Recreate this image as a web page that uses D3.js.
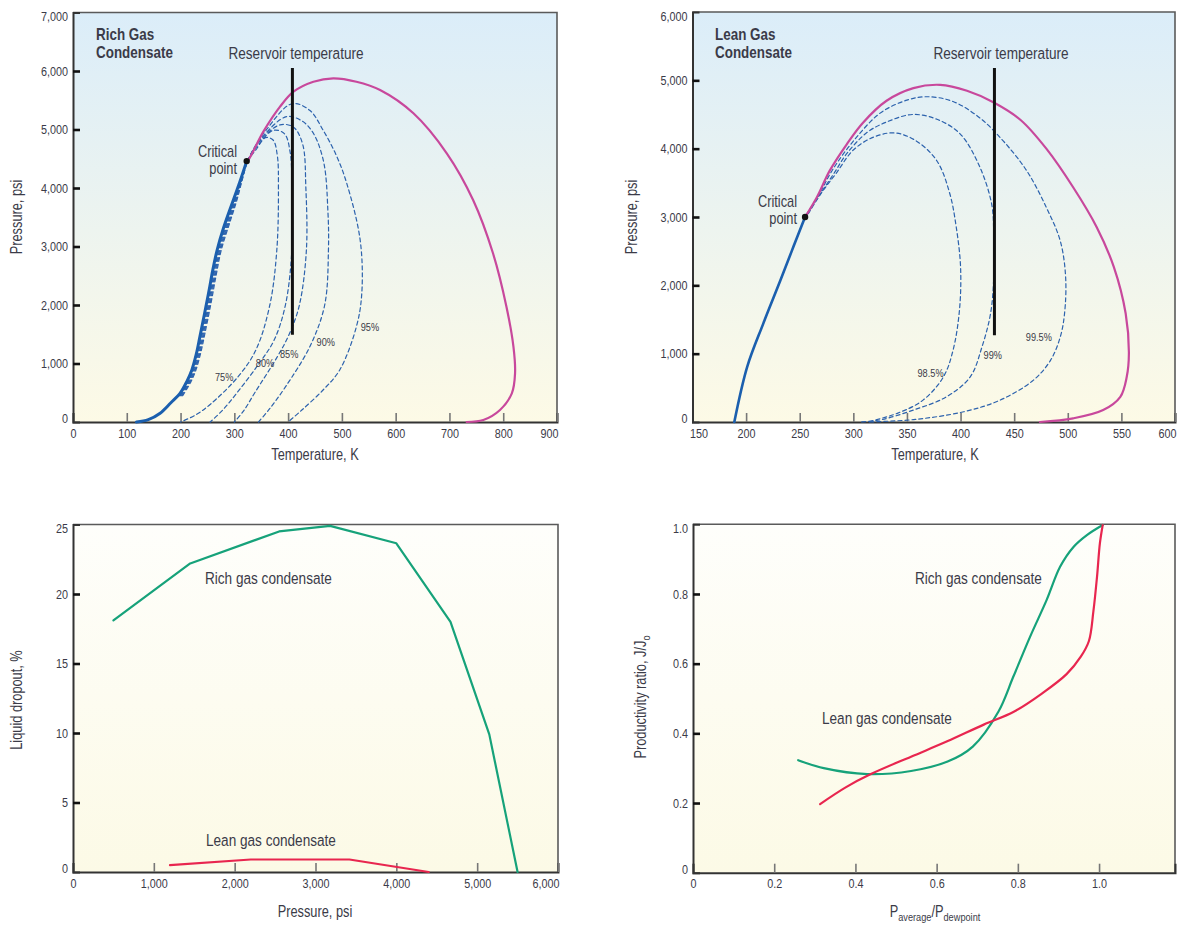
<!DOCTYPE html>
<html>
<head>
<meta charset="utf-8">
<script src="https://cdn.jsdelivr.net/npm/d3@7"></script>
<style>
  body { margin: 0; background: #fff; }
  svg text { font-family: "Liberation Sans", Arial, sans-serif; fill: #3b3b48; }
</style>
</head>
<body>
<svg id="chart" width="1184" height="927"></svg>
<script>
// ---------------------------------------------
// Data
// ---------------------------------------------

// Rich gas condensate, phase envelope (temperature K, pressure psi)
const richTicksX = [0, 100, 200, 300, 400, 500, 600, 700, 800, 900];
const richTicksY = [0, 1000, 2000, 3000, 4000, 5000, 6000, 7000];
const richBubble = [[118,0],[140,40],[162,150],[182,330],[199,490],[212,700],[221,890],[229,1150],
  [236,1460],[252,2200],[260,2600],[268,2940],[280,3320],[296,3740],[310,4100],[323,4460]];
const richDew = [[323,4460],[326,4480],[354,4963],[385,5390],[410,5646],[447,5817],[484,5875],[527,5817],
  [571,5675],[633,5277],[695,4593],[744,3795],[781,2884],[806,1971],[819,1287],[822,832],[816,490],
  [794,205],[763,34],[732,0]];
const richCritical = [323, 4460];
const richReservoir = [[408, 1490], [408, 6050]];
const richQualityNames = ['75%', '80%', '85%', '90%', '95%'];
const richQuality75 = [[198,450],[214,700],[223,900],[232,1200],[239,1500],[250,2000],[260,2500],[270,2950],
  [287,3450],[301,3800],[313,4150],[325,4470],[340,4650],[358,4860],[372,4820],[380,4550],[382,4000],
  [379,2940],[366,2000],[340,1230],[307,775],[255,300],[228,120],[200,0]];
const richQuality80 = [[199.5,450],[215.5,700],[224.5,900],[233.5,1200],[240.5,1500],[251.5,2000],[261.5,2500],
  [271.5,2950],[288.5,3450],[302,3800],[313.5,4150],[325.5,4480],[345,4740],[372,4985],[393,4930],[404,4600],
  [407,4000],[407,2940],[395,2000],[374,1400],[346,1000],[305,500],[278,200],[255,0]];
const richQuality85 = [[201,450],[217,700],[226,900],[235,1200],[242,1500],[253,2000],[263,2500],[273,2950],
  [290,3450],[303,3800],[314,4150],[326,4490],[350,4830],[385,5080],[410,5040],[427,4750],[433,4000],
  [434,2940],[421,2000],[402,1500],[379,1100],[338,500],[318,200],[300,0]];
const richQuality90 = [[202.5,450],[218.5,700],[227.5,900],[236.5,1200],[243.5,1500],[254.5,2000],[264.5,2500],
  [274.5,2950],[291.5,3450],[304,3800],[314.5,4150],[326.5,4500],[355,4900],[397,5220],[425,5150],[446,4950],
  [466,4450],[474,3600],[475,2940],[468,2000],[441,1300],[395,600],[365,220],[345,0]];
const richQuality95 = [[204,450],[220,700],[229,900],[238,1200],[245,1500],[256,2000],[266,2500],[276,2950],
  [293,3450],[305,3800],[315,4150],[327,4510],[360,5000],[407,5440],[440,5330],[465,4990],[490,4550],
  [509,4080],[534,3110],[537,2200],[527,1630],[496,890],[465,547],[425,200],[400,0]];
const richQualityLabelAt = [[281,770],[357,1010],[402,1160],[470,1370],[552,1620]];

// Lean gas condensate, phase envelope
const leanTicksX = [150, 200, 250, 300, 350, 400, 450, 500, 550, 600];
const leanTicksY = [0, 1000, 2000, 3000, 4000, 5000, 6000];
const leanBubble = [[189,0],[201,807],[216,1440],[232,2073],[244,2560],[255,3000]];
const leanDew = [[255,3000],[266,3289],[278,3679],[294,4068],[309,4380],[331,4701],[356,4886],[381,4934],
  [406,4847],[431,4676],[456,4420],[480,4000],[505,3435],[527,2851],[543,2267],[554,1587],[557,1003],
  [555,661],[549,369],[533,175],[505,54],[474,0]];
const leanCritical = [255, 3000];
const leanReservoir = [[431.6, 1270], [431.6, 5180]];
const leanQualityNames = ['98.5%', '99%', '99.5%'];
const leanQuality985 = [[258,3050],[271,3370],[284,3640],[300,3980],[319,4170],[339,4230],[359,4110],
  [378,3820],[390,3340],[396,2850],[400,2270],[399,1640],[393,1050],[384,660],[365,320],[341,127],[313,0]];
const leanQuality99 = [[257,3040],[270,3360],[282,3640],[294,3930],[313,4240],[331,4390],[355,4500],
  [378,4430],[400,4210],[418,3730],[429,3190],[431,2750],[431,2120],[428,1590],[420,1100],[409,660],
  [387,370],[356,175],[325,30],[306,0]];
const leanQuality995 = [[256,3030],[268,3330],[281,3700],[300,4110],[325,4520],[350,4710],[369,4760],
  [393,4690],[418,4450],[440,4110],[462,3670],[480,3140],[493,2650],[498,2120],[497,1590],[493,1245],
  [484,905],[468,613],[437,321],[403,150],[356,35],[313,0]];
const leanQualityLabelAt = [[372,710],[430,978],[473,1245]];

// Liquid dropout vs pressure
const dropoutTicksX = [0, 1000, 2000, 3000, 4000, 5000, 6000];
const dropoutTicksY = [0, 5, 10, 15, 20, 25];
const dropoutRichP = [500, 1450, 2550, 3180, 4000, 4670, 5150, 5500];
const dropoutRichV = [18.1, 22.2, 24.5, 24.9, 23.65, 18.0, 9.9, 0];
const dropoutLeanP = [1200, 2200, 3420, 4400];
const dropoutLeanV = [0.5, 0.9, 0.9, 0];

// Productivity ratio vs pressure ratio
const prodTicksX = [0, 0.2, 0.4, 0.6, 0.8, 1.0];
const prodTicksY = [0, 0.2, 0.4, 0.6, 0.8, 1.0];
const prodRichX = [0.259, 0.322, 0.429, 0.537, 0.627, 0.689, 0.752, 0.789, 0.830, 0.871, 0.904, 0.937, 0.970, 1.009];
const prodRichY = [0.323, 0.300, 0.283, 0.292, 0.319, 0.362, 0.462, 0.563, 0.677, 0.783, 0.878, 0.935, 0.969, 0.998];
const prodLeanX = [0.313, 0.376, 0.438, 0.537, 0.626, 0.716, 0.790, 0.860, 0.920, 0.955, 0.975, 0.986, 0.995, 1.002, 1.009];
const prodLeanY = [0.197, 0.245, 0.283, 0.333, 0.377, 0.425, 0.462, 0.515, 0.570, 0.620, 0.665, 0.750, 0.850, 0.945, 0.998];

// ---------------------------------------------
// Drawing helpers
// ---------------------------------------------

const svg = d3.select('#chart');
const defs = svg.append('defs');

// The reference uses a condensed face; squeeze a normal one horizontally
const CONDENSE = 0.8;

let addGradient = function(id, top, bottom) {
  let grad = defs.append('linearGradient').attr('id', id)
      .attr('x1', 0).attr('y1', 0).attr('x2', 0).attr('y2', 1);
  grad.append('stop').attr('offset', '0%').attr('stop-color', top);
  grad.append('stop').attr('offset', '100%').attr('stop-color', bottom);
};
addGradient('skyGrad', '#dbedf9', '#fdfae6');
addGradient('creamGrad', '#fefefb', '#fcfae6');

/**
 * Builds one panel: background, frame, axes and returns the scales
 */
let makePanel = function(opts) {
  let g = svg.append('g');
  let x = d3.scaleLinear().domain(opts.xDomain).range([opts.left, opts.right]);
  let y = d3.scaleLinear().domain(opts.yDomain).range([opts.bottom, opts.top]);

  g.append('rect')
      .attr('x', opts.left).attr('y', opts.top)
      .attr('width', opts.right - opts.left).attr('height', opts.bottom - opts.top)
      .attr('fill', 'url(#' + opts.gradient + ')');

  // Frame on top and right
  g.append('path')
      .attr('d', `M${opts.left},${opts.top}H${opts.right}V${opts.bottom}`)
      .attr('fill', 'none').attr('stroke', '#5a5a5a').attr('stroke-width', 1.6);

  // Bottom axis, ticks pointing up
  let xAxis = g.append('g')
      .attr('transform', `translate(0,${opts.bottom})`)
      .call(d3.axisBottom(x).tickValues(opts.xTicks).tickSize(-9).tickPadding(6).tickFormat(opts.xFormat));
  xAxis.select('.domain').attr('stroke', '#333').attr('stroke-width', 2);
  xAxis.selectAll('.tick line').attr('stroke', '#777').attr('stroke-width', 1.6);
  xAxis.selectAll('.tick text').attr('font-size', 13.5).attr('fill', '#55556a')
      .attr('font-family', null);
  let xTexts = xAxis.selectAll('.tick text').nodes();
  if (opts.lastXEnd) d3.select(xTexts[xTexts.length - 1]).attr('text-anchor', 'end').attr('x', 1);
  if (opts.firstXStart) d3.select(xTexts[0]).attr('text-anchor', 'start').attr('x', -3);

  // Left axis, ticks pointing right
  let yAxis = g.append('g')
      .attr('transform', `translate(${opts.left},0)`)
      .call(d3.axisLeft(y).tickValues(opts.yTicks).tickSize(-7).tickPadding(5).tickFormat(opts.yFormat));
  yAxis.select('.domain').attr('stroke', '#333').attr('stroke-width', 2);
  yAxis.selectAll('.tick line').attr('stroke', '#111').attr('stroke-width', 2.6);
  yAxis.selectAll('.tick text').attr('font-size', 13.5).attr('fill', '#55556a')
      .attr('font-family', null);
  let yTexts = yAxis.selectAll('.tick text').nodes();
  d3.select(yTexts[0]).attr('y', -4);
  d3.select(yTexts[yTexts.length - 1]).attr('y', 4);
  yAxis.selectAll('.tick').filter((d, i) => i === 0 || i === yTexts.length - 1)
      .select('line').remove();

  return { g: g, x: x, y: y };
};

let addText = function(g, x, y, str, opts) {
  opts = opts || {};
  let t = g.append('text')
      .attr('x', x).attr('y', y)
      .attr('font-size', opts.size || 17)
      .attr('font-weight', opts.weight || 'normal')
      .attr('text-anchor', opts.anchor || 'start')
      .attr('fill', opts.fill || '#3b3b48')
      .text(str);
  if (opts.squeeze) t.attr('data-sx', opts.squeeze);
  return t;
};

let addRotated = function(g, x, y, str) {
  return g.append('text')
      .attr('transform', `translate(${x},${y}) rotate(-90)`)
      .attr('font-size', 16).attr('text-anchor', 'middle')
      .text(str);
};

let drawCurve = function(panel, points, stroke, width, dash, curve) {
  let line = d3.line()
      .x((d) => panel.x(d[0]))
      .y((d) => panel.y(d[1]))
      .curve(curve || d3.curveCatmullRom.alpha(0.5));
  return panel.g.append('path')
      .datum(points)
      .attr('d', line)
      .attr('fill', 'none')
      .attr('stroke', stroke)
      .attr('stroke-width', width)
      .attr('stroke-dasharray', dash || null)
      .attr('stroke-linejoin', 'round')
      .attr('stroke-linecap', 'round');
};

const blue = '#1b5fae';
const dashBlue = '#2c62ad';
const magenta = '#c8489c';
const green = '#16a27a';
const red = '#e8264f';

// ---------------------------------------------
// Panel 1: rich gas condensate
// ---------------------------------------------
let rich = makePanel({
  left: 73, right: 557, top: 12.5, bottom: 422,
  xDomain: [0, 900], yDomain: [0, 7000],
  xTicks: richTicksX, yTicks: richTicksY,
  xFormat: d3.format('d'), yFormat: d3.format(','),
  gradient: 'skyGrad', lastXEnd: true
});

[richQuality75, richQuality80, richQuality85, richQuality90, richQuality95].forEach((q) => {
  drawCurve(rich, q, dashBlue, 1.2, '4,3');
});
drawCurve(rich, richDew, magenta, 2.2);
drawCurve(rich, richBubble, blue, 3);
drawCurve(rich, richReservoir, '#111', 3, null, d3.curveLinear).attr('stroke-linecap', 'butt');
rich.g.append('circle').attr('cx', rich.x(richCritical[0])).attr('cy', rich.y(richCritical[1]))
    .attr('r', 3.2).attr('fill', '#111');
richQualityNames.forEach((name, i) => {
  addText(rich.g, rich.x(richQualityLabelAt[i][0]), rich.y(richQualityLabelAt[i][1]) + 4, name,
      { size: 11.5, anchor: 'middle', fill: '#4a4a55' });
});
addText(rich.g, 96, 40, 'Rich Gas', { size: 16, weight: 'bold', fill: '#1e1e28', squeeze: 0.84 });
addText(rich.g, 96, 58, 'Condensate', { size: 16, weight: 'bold', fill: '#1e1e28', squeeze: 0.84 });
addText(rich.g, 296, 59, 'Reservoir temperature', { anchor: 'middle' });
addText(rich.g, 237, 157, 'Critical', { size: 16, anchor: 'end' });
addText(rich.g, 237, 174, 'point', { size: 16, anchor: 'end' });
addText(rich.g, 315, 460, 'Temperature, K', { size: 16, anchor: 'middle' });
addRotated(rich.g, 22, 217, 'Pressure, psi');

// ---------------------------------------------
// Panel 2: lean gas condensate
// ---------------------------------------------
let lean = makePanel({
  left: 692.5, right: 1175, top: 12, bottom: 422,
  xDomain: [150, 600], yDomain: [0, 6000],
  xTicks: leanTicksX, yTicks: leanTicksY,
  xFormat: d3.format('d'), yFormat: d3.format(','),
  gradient: 'skyGrad', firstXStart: true, lastXEnd: true
});

[leanQuality985, leanQuality99, leanQuality995].forEach((q) => {
  drawCurve(lean, q, dashBlue, 1.2, '4,3');
});
drawCurve(lean, leanDew, magenta, 2.2);
drawCurve(lean, leanBubble, blue, 2.6);
drawCurve(lean, leanReservoir, '#111', 3, null, d3.curveLinear).attr('stroke-linecap', 'butt');
lean.g.append('circle').attr('cx', lean.x(leanCritical[0])).attr('cy', lean.y(leanCritical[1]))
    .attr('r', 3.2).attr('fill', '#111');
leanQualityNames.forEach((name, i) => {
  addText(lean.g, lean.x(leanQualityLabelAt[i][0]), lean.y(leanQualityLabelAt[i][1]) + 4, name,
      { size: 11.5, anchor: 'middle', fill: '#4a4a55' });
});
addText(lean.g, 715, 40, 'Lean Gas', { size: 16, weight: 'bold', fill: '#1e1e28', squeeze: 0.84 });
addText(lean.g, 715, 58, 'Condensate', { size: 16, weight: 'bold', fill: '#1e1e28', squeeze: 0.84 });
addText(lean.g, 1001, 59, 'Reservoir temperature', { anchor: 'middle' });
addText(lean.g, 797, 207, 'Critical', { size: 16, anchor: 'end' });
addText(lean.g, 797, 224, 'point', { size: 16, anchor: 'end' });
addText(lean.g, 935, 460, 'Temperature, K', { size: 16, anchor: 'middle' });
addRotated(lean.g, 637, 217, 'Pressure, psi');

// ---------------------------------------------
// Panel 3: liquid dropout
// ---------------------------------------------
let dropout = makePanel({
  left: 73, right: 558, top: 524.5, bottom: 872,
  xDomain: [0, 6000], yDomain: [0, 25],
  xTicks: dropoutTicksX, yTicks: dropoutTicksY,
  xFormat: d3.format(','), yFormat: d3.format('d'),
  gradient: 'creamGrad', lastXEnd: true
});
drawCurve(dropout, d3.zip(dropoutRichP, dropoutRichV), green, 2.2, null, d3.curveLinear);
drawCurve(dropout, d3.zip(dropoutLeanP, dropoutLeanV), red, 2.2, null, d3.curveLinear);
addText(dropout.g, 205, 584, 'Rich gas condensate');
addText(dropout.g, 206, 846, 'Lean gas condensate');
addText(dropout.g, 315, 917, 'Pressure, psi', { size: 16, anchor: 'middle' });
addRotated(dropout.g, 22, 700, 'Liquid dropout, %');

// ---------------------------------------------
// Panel 4: productivity ratio
// ---------------------------------------------
let ratioFormat = (d) => d === 0 ? '0' : d3.format('.1f')(d);
let prod = makePanel({
  left: 693, right: 1175, top: 524.3, bottom: 872.7,
  xDomain: [0, 1.187], yDomain: [0, 1],
  xTicks: prodTicksX, yTicks: prodTicksY,
  xFormat: ratioFormat, yFormat: ratioFormat,
  gradient: 'creamGrad'
});
drawCurve(prod, d3.zip(prodRichX, prodRichY), green, 2.2);
drawCurve(prod, d3.zip(prodLeanX, prodLeanY), red, 2.2);
addText(prod.g, 915, 584, 'Rich gas condensate');
addText(prod.g, 822, 724, 'Lean gas condensate');

let xTitle = addText(prod.g, 935, 917, '', { size: 16, anchor: 'middle' });
xTitle.append('tspan').text('P');
xTitle.append('tspan').attr('font-size', 11.5).attr('dy', 4).text('average');
xTitle.append('tspan').attr('dy', -4).text('/P');
xTitle.append('tspan').attr('font-size', 11.5).attr('dy', 4).text('dewpoint');

let yTitle = addRotated(prod.g, 646, 697, '');
yTitle.append('tspan').text('Productivity ratio, J/J');
yTitle.append('tspan').attr('font-size', 11.5).attr('dy', 4).text('o');

// ---------------------------------------------
// Squeeze every text horizontally around its anchor
// ---------------------------------------------
svg.selectAll('text').each(function() {
  let t = d3.select(this);
  let sx = +(t.attr('data-sx') || CONDENSE);
  let tr = t.attr('transform');
  if (tr) {
    t.attr('transform', tr + ` scale(${sx},1)`);
  } else {
    let x0 = +(t.attr('x') || 0);
    t.attr('transform', `translate(${x0},0) scale(${sx},1) translate(${-x0},0)`);
  }
});
</script>
</body>
</html>
